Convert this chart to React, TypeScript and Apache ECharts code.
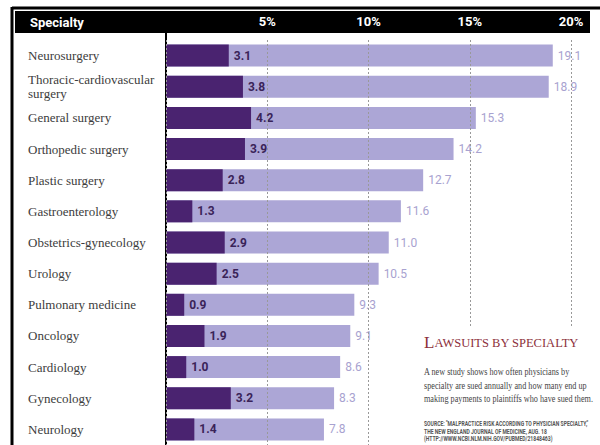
import React, { useEffect, useRef } from "react";
import * as echarts from "echarts";

const categories = [
  "Neurosurgery",
  "Thoracic-cardiovascular\nsurgery",
  "General surgery",
  "Orthopedic surgery",
  "Plastic surgery",
  "Gastroenterology",
  "Obstetrics-gynecology",
  "Urology",
  "Pulmonary medicine",
  "Oncology",
  "Cardiology",
  "Gynecology",
  "Neurology",
];
const paymentValues = [3.1, 3.8, 4.2, 3.9, 2.8, 1.3, 2.9, 2.5, 0.9, 1.9, 1.0, 3.2, 1.4];
const suedValues = [19.1, 18.9, 15.3, 14.2, 12.7, 11.6, 11.0, 10.5, 9.3, 9.1, 8.6, 8.3, 7.8];
const axisTicks = [0, 5, 10, 15, 20];

const title = "LAWSUITS BY SPECIALTY";
const bodyLines = [
  "A new study shows how often physicians by",
  "specialty are sued annually and how many end up",
  "making payments to plaintiffs who have sued them.",
];
const sourceLines = [
  'SOURCE: "MALPRACTICE RISK ACCORDING TO PHYSICIAN SPECIALTY,"',
  "THE NEW ENGLAND JOURNAL OF MEDICINE, AUG. 18",
  "(HTTP://WWW.NCBI.NLM.NIH.GOV/PUBMED/21848463)",
];

const DARK = "#4a2370";
const LIGHT = "#aca6d6";
const NARROW = '"Liberation Sans Narrow", "Arial Narrow", "Roboto", sans-serif';
const SERIF = '"Liberation Serif", "DejaVu Serif", serif';

export default function App() {
  const ref = useRef<HTMLDivElement>(null);
  useEffect(() => {
    if (!ref.current) return;
    const chart = echarts.init(ref.current, null, { renderer: "svg" });
    const tx = 424;
    chart.setOption({
      animation: false,
      backgroundColor: "#ffffff",
      grid: { left: 166, right: 29, top: 40, bottom: -7, containLabel: false },
      xAxis: {
        type: "value",
        position: "top",
        min: axisTicks[0],
        max: axisTicks[axisTicks.length - 1],
        interval: 5,
        z: 10,
        axisLine: { show: false },
        axisTick: { show: false },
        axisLabel: {
          margin: 12,
          color: "#ffffff",
          fontWeight: "bold",
          fontSize: 13,
          fontFamily: NARROW,
          showMaxLabel: true,
          formatter: (v: number) => (v === 0 ? "" : v + "%"),
        },
        splitLine: {
          show: true,
          lineStyle: { type: [2, 2], color: "#999999", width: 1 },
        },
      },
      yAxis: {
        type: "category",
        inverse: true,
        data: categories,
        axisLine: { show: true, lineStyle: { color: "#000000", width: 2 } },
        axisTick: { show: false },
        axisLabel: {
          align: "left",
          margin: 138,
          color: "#3c3c3c",
          fontSize: 13,
          lineHeight: 14,
          fontFamily: SERIF,
        },
      },
      series: [
        {
          type: "bar",
          data: suedValues,
          barWidth: 22,
          itemStyle: { color: LIGHT },
          label: {
            show: true,
            position: "right",
            distance: 5,
            color: "#a8a2d0",
            fontSize: 12,
            fontFamily: NARROW,
            formatter: (p: any) => Number(p.value).toFixed(1),
          },
          z: 2,
        },
        {
          type: "bar",
          data: paymentValues,
          barWidth: 22,
          barGap: "-100%",
          itemStyle: { color: DARK },
          label: {
            show: true,
            position: "right",
            distance: 5,
            color: "#3a2358",
            fontWeight: "bold",
            fontSize: 12,
            fontFamily: NARROW,
            formatter: (p: any) => Number(p.value).toFixed(1),
          },
          z: 3,
        },
      ],
      graphic: [
        { type: "rect", z: 0, shape: { x: 15, y: 11, width: 575, height: 22 }, style: { fill: "#000000" } },
        { type: "line", z: 5, shape: { x1: 12, y1: 8, x2: 600, y2: 8 }, style: { stroke: "#000000", lineWidth: 3 } },
        { type: "line", z: 5, shape: { x1: 12, y1: 7, x2: 12, y2: 445 }, style: { stroke: "#000000", lineWidth: 3 } },
        { type: "line", z: 5, shape: { x1: 166, y1: 33, x2: 166, y2: 41 }, style: { stroke: "#000000", lineWidth: 2 } },
        {
          type: "text",
          z: 6,
          x: 30,
          y: 22,
          style: {
            text: "Specialty",
            fill: "#ffffff",
            font: `bold 13px ${NARROW}`,
            verticalAlign: "middle",
          },
        },
        { type: "rect", z: 20, shape: { x: 412, y: 328, width: 188, height: 117 }, style: { fill: "#ffffff" } },
        {
          type: "text",
          z: 21,
          x: tx,
          y: 351,
          style: {
            text: "{big|" + title[0] + "}{small|" + title.slice(1) + "}",
            verticalAlign: "bottom",
            rich: {
              big: { fontSize: 17, fontFamily: SERIF, fill: "#8c2f3a", color: "#8c2f3a" },
              small: { fontSize: 12.5, fontFamily: SERIF, fill: "#8c2f3a", color: "#8c2f3a" },
            },
          },
        },
        ...bodyLines.map((t, i) => ({
          type: "text",
          z: 21,
          x: tx,
          y: 372 + i * 13.5,
          scaleX: 0.82,
          style: {
            text: t,
            fill: "#444444",
            font: `10px ${SERIF}`,
            verticalAlign: "middle",
          },
        })),
        ...sourceLines.map((t, i) => ({
          type: "text",
          z: 21,
          x: tx,
          y: 424 + i * 7.5,
          scaleX: 0.78,
          style: {
            text: t,
            fill: "#555555",
            font: `bold 6.5px ${NARROW}`,
            verticalAlign: "middle",
          },
        })),
      ],
    });
    return () => chart.dispose();
  }, []);
  return (
    <div
      ref={ref}
      style={{ position: "fixed", left: 0, top: 0, width: 600, height: 445 }}
    />
  );
}
